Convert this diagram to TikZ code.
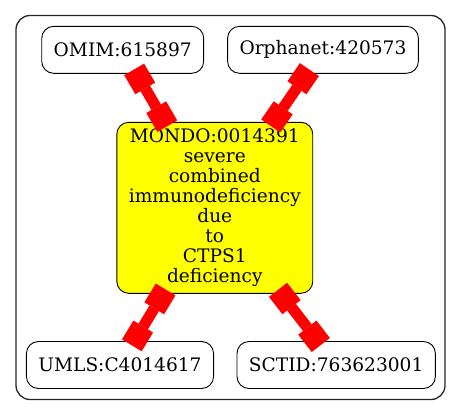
\documentclass[tikz,border=0pt]{standalone}
\usepackage{fontspec}
\setmainfont{DejaVu Serif}
\usetikzlibrary{arrows.meta}
\tikzset{
  idbox/.style={draw=black, line width=0.9pt, rounded corners=12pt, fill=white, inner xsep=12pt, minimum height=47pt, font=\fontsize{18.6pt}{20pt}\selectfont},
  termbox/.style={idbox, fill={rgb,255:red,255;green,255;blue,0}, align=center, minimum width=195pt, minimum height=171pt},
  linkbar/.style={draw=red, line width=11pt, {Square[length=22pt,width=23pt,line width=0pt]}-{Square[length=22pt,width=23pt,line width=0pt]}, shorten <=-5pt, shorten >=-5pt},
}
\newcommand{\idnode}[4]{\node[idbox] (#1) at ( #2 , #3 ) {#4};}
\newcommand{\link}[2]{\draw[linkbar] (#1) -- (#2);}

\begin{document}
\begin{tikzpicture}[x=1pt,y=-1pt]
        \useasboundingbox (0,0) rectangle (461,416);

        % frame
        \draw[black!85, line width=1.3pt, rounded corners=14pt] (16,15.5) rectangle (445,399.5);

        % top row
        \idnode{omim}{122.7}{49.8}{OMIM:615897}
        \idnode{orpha}{323}{49.8}{Orphanet:420573}

        % middle
        \node[termbox] (mondo) at (214.8,207.8) {MONDO:0014391\\severe\\combined\\immunodeficiency\\due\\to\\CTPS1\\deficiency};

        % bottom row
        \idnode{umls}{120}{365}{UMLS:C4014617}
        \idnode{sctid}{336.2}{365}{SCTID:763623001}

        % links
        \link{omim}{mondo}
        \link{orpha}{mondo}
        \link{mondo}{umls}
        \link{mondo}{sctid}

\end{tikzpicture}
\end{document}
